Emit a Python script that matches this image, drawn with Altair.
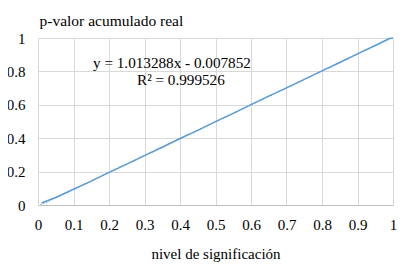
import altair as alt
import pandas as pd

x_vals = [0.01, 0.05, 0.1, 0.15, 0.2, 0.25, 0.3, 0.35, 0.4, 0.45, 0.5, 0.55,
          0.6, 0.65, 0.7, 0.75, 0.8, 0.85, 0.9, 0.95, 0.99, 1.0]
y_vals = [0.012, 0.045, 0.094, 0.143, 0.195, 0.245, 0.296, 0.346, 0.398, 0.447,
          0.499, 0.549, 0.601, 0.652, 0.701, 0.752, 0.803, 0.853, 0.905, 0.955,
          0.997, 1.0]
# trendline endpoints
trend_x = [0.0, 1.0]
trend_y = [-0.007852, 1.005436]
eq_lines = ["y = 1.013288x - 0.007852", "R² = 0.999526"]
x_ticks = [0, 0.1, 0.2, 0.3, 0.4, 0.5, 0.6, 0.7, 0.8, 0.9, 1]
y_ticks = [0, 0.2, 0.4, 0.6, 0.8, 1]

FONT = "Liberation Serif"

df = pd.DataFrame({"x": x_vals, "y": y_vals})
dt = pd.DataFrame({"x": trend_x, "y": trend_y})

xs = alt.Scale(domain=[0, 1], nice=False)
ys = alt.Scale(domain=[0, 1], nice=False)

xaxis = alt.Axis(values=x_ticks, format="~g",
                 title="nivel de significación", ticks=False, domain=True,
                 domainColor="#bfbfbf", gridColor="#d9d9d9", labelPadding=12,
                 labelOverlap=False, labelFlush=False,
                 titleY=53, titleBaseline="alphabetic", titleFontWeight="normal")
yaxis = alt.Axis(values=y_ticks, format="~g",
                 title="p-valor acumulado real", ticks=False, domain=False,
                 labelOverlap=False, labelFlush=False,
                 gridColor="#d9d9d9", labelPadding=13, titleAngle=0,
                 titleAlign="left", titleX=1, titleY=-13, titleBaseline="alphabetic",
                 titleFontWeight="normal", titleFontSize=15.5)

trend = alt.Chart(dt).mark_line(color="#5B9BD5", strokeDash=[1, 2], strokeWidth=1.2, clip=True).encode(
    x=alt.X("x:Q", scale=xs, axis=xaxis),
    y=alt.Y("y:Q", scale=ys, axis=yaxis),
)
line = alt.Chart(df).mark_line(color="#5B9BD5", strokeWidth=1.5).encode(
    x=alt.X("x:Q", scale=xs, axis=xaxis),
    y=alt.Y("y:Q", scale=ys, axis=yaxis),
)
t1 = alt.Chart(pd.DataFrame({"t": [eq_lines[0]]})).mark_text(
    font=FONT, fontSize=15.2, align="left", baseline="middle", color="black"
).encode(x=alt.value(55), y=alt.value(25), text="t:N")
t2 = alt.Chart(pd.DataFrame({"t": [eq_lines[1]]})).mark_text(
    font=FONT, fontSize=15.2, align="left", baseline="middle", color="black"
).encode(x=alt.value(99), y=alt.value(42), text="t:N")

chart = alt.layer(trend, line, t1, t2).properties(
    width=355, height=167,
    autosize=alt.AutoSizeParams(type="none"),
    padding={"left": 30, "top": 30, "right": 7, "bottom": 60},
).configure_view(stroke=None).configure_axis(
    labelFont=FONT, titleFont=FONT, labelFontSize=15, titleFontSize=15,
    labelColor="black", titleColor="black",
)

chart.save("out.html", embed_options={"renderer": "svg", "actions": False})
